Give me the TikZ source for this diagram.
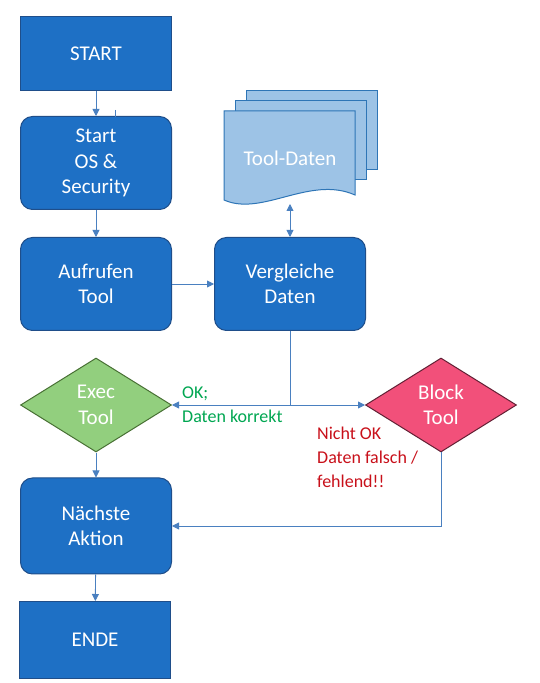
\documentclass[tikz,border=0pt]{standalone}
\usepackage{fontspec}
\setmainfont{Carlito}
\usepackage{xcolor}
\usetikzlibrary{shapes.geometric, arrows.meta}

\definecolor{boxblue}{RGB}{30,112,197}
\definecolor{boxline}{RGB}{31,78,138}
\definecolor{docfill}{RGB}{157,195,230}
\definecolor{docline}{RGB}{46,117,182}
\definecolor{execfill}{RGB}{146,207,126}
\definecolor{execline}{RGB}{72,112,52}
\definecolor{blockfill}{RGB}{242,80,122}
\definecolor{blockline}{RGB}{98,32,52}
\definecolor{flowline}{RGB}{74,128,192}
\definecolor{okgreen}{RGB}{0,166,81}
\definecolor{nokred}{RGB}{200,16,26}

\tikzset{
  stepbox/.style={draw=boxline, fill=boxblue, line width=1pt, text=white,
    minimum width=151pt, align=center, inner sep=0pt,
    font=\fontsize{21}{25.5}\selectfont},
  roundbox/.style={stepbox, rounded corners=12pt},
  decision/.style={diamond, aspect=1.6, line width=1pt, text=white,
    minimum width=151pt, minimum height=94pt, align=center, inner sep=0pt,
    font=\fontsize{21}{25.5}\selectfont},
  flow/.style={draw=flowline, line width=0.9pt, -{Triangle[length=7pt,width=7pt]}},
  note/.style={align=left, inner sep=0pt, anchor=north west,
    font=\fontsize{18}{24}\selectfont}
}

\begin{document}
\begin{tikzpicture}[x=1pt,y=1pt]
\useasboundingbox (0,0) rectangle (540,683);

% main column
\node[stepbox, minimum height=74pt] (start) at (96,629) {START};
\node[roundbox, minimum height=93pt] (os) at (96,520) {Start\\OS \&\\Security};
\node[roundbox, minimum height=93pt] (aufruf) at (96,399) {Aufrufen\\Tool};
\node[roundbox, minimum height=93pt] (vergl) at (290,399) {Vergleiche\\Daten};
\node[decision, draw=execline, fill=execfill] (exec) at (96,278) {Exec\\Tool};
\node[decision, draw=blockline, fill=blockfill] (block) at (441,278) {Block\\Tool};
\node[roundbox, minimum height=96pt] (naechste) at (96,157) {Nächste\\Aktion};
\node[stepbox, minimum height=77pt] (ende) at (95,43) {ENDE};

% Tool-Daten (stacked documents)
\draw[draw=docline, fill=docfill, line width=1pt] (246,513) rectangle (377,592);
\draw[draw=docline, fill=docfill, line width=1pt] (235,503) rectangle (366,582);
\draw[draw=docline, fill=docfill, line width=1pt] (224,572) -- (224,483)
  .. controls (262,466) and (310,508) .. (355,488) -- (355,572) -- cycle;
\node[text=white, font=\fontsize{21}{25.5}\selectfont] (tooldaten) at (290,525) {Tool-Daten};
\coordinate (docbottom) at (290,479);

% connectors
\coordinate (stray) at (115,573);
\coordinate (strayend) at (115,566);
\draw[draw=flowline, line width=0.6pt] (stray) -- (strayend);
\draw[flow] (start) -- (os);
\draw[flow] (os) -- (aufruf);
\draw[flow] (aufruf) -- (vergl);
\draw[draw=flowline, line width=0.9pt, {Triangle[length=7pt,width=7pt]}-{Triangle[length=7pt,width=7pt]}] (docbottom) -- (vergl.north);
\coordinate (split) at (vergl.south |- exec.east);
\draw[draw=flowline, line width=0.9pt] (vergl.south) -- (split);
\draw[flow] (split) -- (exec.east);
\draw[flow] (split) -- (block.west);
\draw[flow] (exec) -- (naechste);
\draw[flow] (block.south) |- (naechste.east);
\draw[flow] (naechste) -- (ende);

% labels
\node[note, text=okgreen] (oklabel) at (182,296) {OK;\\Daten korrekt};
\node[note, text=nokred] (noklabel) at (317,256) {Nicht OK\\Daten falsch /\\fehlend!!};
\end{tikzpicture}
\end{document}
